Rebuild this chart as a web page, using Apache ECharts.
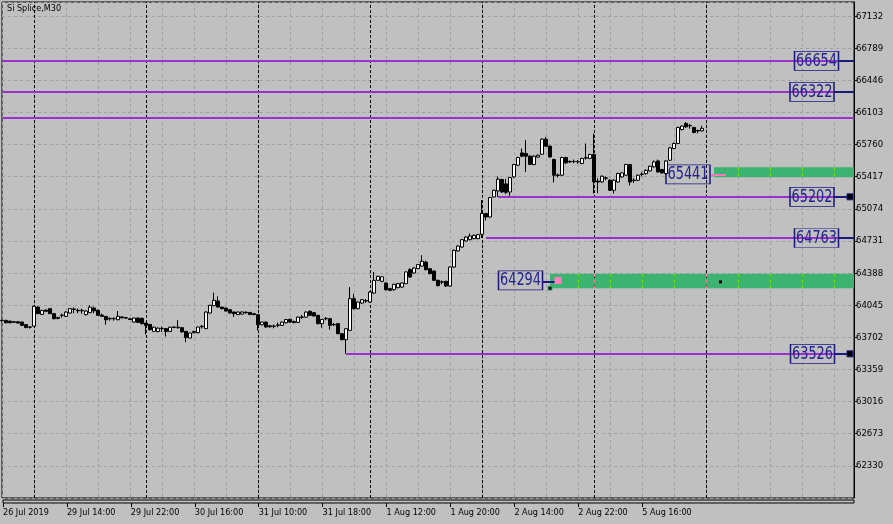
<!DOCTYPE html>
<html><head><meta charset="utf-8">
<script src="https://cdn.jsdelivr.net/npm/echarts@6/dist/echarts.min.js"></script>
<style>html,body{margin:0;padding:0;background:#c0c0c0}#c{width:893px;height:524px}</style>
</head><body><div id="c"></div><script>
// ---- data ----
const sessionDays = ['26 Jul','29 Jul','30 Jul','31 Jul','1 Aug','2 Aug','5 Aug','6 Aug','7 Aug'];
const firstBarTime = '20:00';
const firstLabel = '26 Jul 2019';
const slotCount = 214;          // 176 bars + empty space on the right
const xLabelEvery = 16;
const lastLabelBar = 160;
const separatorBars = [8, 36, 64, 92, 120, 148, 176];

// [open, close, low, high]
const candles = [
[63883,63880,63870,63890],[63883,63858,63850,63890],[63875,63858,63852,63880],[63862,63870,63855,63875],
[63868,63855,63848,63872],[63865,63830,63825,63868],[63838,63806,63800,63842],[63813,63810,63795,63820],
[63822,64033,63815,64040],[64025,63955,63950,64035],[63947,63990,63940,63995],[63993,63980,63972,64000],
[64008,63955,63950,64015],[63955,63901,63895,63960],[63915,63905,63895,63920],[63935,63940,63912,63955],
[63926,63972,63920,63980],[63962,64008,63955,64015],[64000,64005,63960,64020],[63990,63985,63960,64010],
[63985,63990,63955,64008],[63944,63983,63935,63990],[63965,64025,63960,64045],[64015,63985,63960,64030],
[63990,63937,63930,64000],[63940,63926,63920,63955],[63926,63890,63837,63930],[63905,63900,63880,63915],
[63900,63905,63880,63915],[63890,63926,63885,63983],[63920,63910,63905,63928],[63912,63908,63900,63920],
[63900,63893,63888,63905],[63865,63908,63860,63912],[63908,63862,63855,63915],[63905,63848,63840,63912],
[63854,63830,63733,63860],[63840,63784,63775,63845],[63765,63811,63760,63815],[63765,63800,63755,63808],
[63795,63798,63760,63815],[63795,63765,63712,63800],[63765,63810,63758,63815],[63808,63812,63800,63818],
[63805,63810,63795,63885],[63805,63760,63755,63810],[63766,63700,63650,63770],[63695,63748,63690,63752],
[63752,63765,63745,63772],[63752,63812,63745,63818],[63815,63820,63795,63835],[63795,63972,63790,63980],
[63962,64044,63955,64050],[64040,64097,64035,64179],[64090,64025,64020,64140],[64025,64008,64000,64030],
[64015,63983,63978,64020],[63997,63962,63955,64000],[63972,63955,63920,63978],[63945,63972,63940,63978],
[63950,63972,63945,63980],[63970,63965,63955,63980],[63968,63945,63940,63972],[63955,63945,63938,63960],
[63944,63837,63776,63950],[63837,63865,63830,63870],[63865,63812,63805,63870],[63825,63815,63805,63835],
[63820,63822,63798,63840],[63830,63835,63810,63860],[63830,63865,63825,63870],[63858,63892,63850,63898],
[63895,63865,63858,63900],[63870,63860,63852,63880],[63862,63918,63855,63925],[63915,63920,63900,63940],
[63918,63972,63910,63980],[63980,63937,63930,63990],[63965,63930,63922,63972],[63937,63848,63840,63940],
[63848,63893,63805,63900],[63900,63905,63885,63920],[63901,63830,63784,63910],[63840,63835,63825,63855],
[63848,63741,63735,63855],[63741,63677,63670,63748],[63677,63794,63526,63800],[63776,64115,63770,64239],
[64115,64008,64000,64168],[64008,64079,64000,64085],[64068,64104,64060,64110],[64090,64095,64070,64110],
[64079,64186,64070,64195],[64175,64311,64168,64400],[64311,64353,64305,64360],[64300,64348,64290,64355],
[64282,64211,64200,64290],[64222,64204,64195,64230],[64211,64268,64200,64275],[64233,64276,64225,64282],
[64239,64282,64230,64290],[64275,64400,64270,64405],[64425,64346,64340,64440],[64389,64442,64380,64450],
[64436,64479,64430,64485],[64463,64514,64458,64578],[64506,64425,64415,64520],[64435,64382,64375,64440],
[64410,64311,64305,64415],[64311,64254,64245,64318],[64290,64295,64270,64310],[64300,64250,64240,64305],
[64250,64453,64245,64460],[64453,64631,64445,64640],[64624,64677,64615,64685],[64666,64745,64660,64752],
[64731,64773,64725,64780],[64745,64784,64738,64810],[64756,64791,64750,64800],[64756,64799,64750,64805],
[64802,65024,64763,65166],[65024,64987,64950,65030],[64987,65195,64980,65200],[65201,65272,65195,65280],
[65265,65390,65202,65420],[65387,65254,65245,65395],[65340,65250,65230,65395],[65254,65408,65213,65415],
[65415,65547,65405,65555],[65540,65622,65530,65630],[65671,65636,65625,65718],[65665,65636,65468,65807],
[65636,65547,65540,65645],[65547,65636,65540,65645],[65626,65646,65620,65655],[65657,65818,65650,65825],
[65818,65743,65735,65842],[65743,65628,65620,65750],[65600,65433,65355,65610],[65430,65435,65410,65450],
[65433,65622,65425,65630],[65622,65565,65555,65630],[65580,65575,65565,65590],[65578,65580,65560,65600],
[65575,65578,65555,65595],[65558,65611,65550,65620],[65615,65620,65600,65772],[65612,65654,65605,65662],
[65654,65361,65237,65878],[65370,65360,65240,65400],[65362,65422,65355,65430],[65400,65405,65380,65420],
[65379,65272,65265,65390],[65272,65379,65237,65390],[65361,65451,65355,65460],[65415,65458,65405,65465],
[65433,65547,65425,65555],[65547,65361,65325,65555],[65375,65380,65350,65400],[65379,65433,65370,65440],
[65440,65445,65420,65465],[65450,65485,65440,65495],[65479,65529,65470,65535],[65522,65575,65515,65590],
[65585,65468,65460,65600],[65493,65457,65450,65500],[65450,65585,65441,65595],[65593,65725,65585,65735],
[65718,65772,65710,65780],[65772,65943,65765,65950],[65921,65957,65910,65965],[65985,65949,65940,66000],
[65960,65965,65930,65980],[65943,65889,65880,65950],[65910,65905,65880,65920],[65907,65933,65900,65960]
];

// price axis
const yMin = 61987, yMax = 67282, yStep = 343;

// horizontal price levels (purple)
const levelPrices   = [66654, 66322, 66045, 65202, 64763, 63526];
const levelStartBar = [0, 0, 0, 124, 121, 86];

// price tags (boxes)
const tagPrices = [66654, 66322, 65202, 64763, 63526, 65441, 64294];
const tagBars   = [204, 203, 203, 204, 203, 172, 130];
const tagShift  = [-1.5, -2, -2, -1.5, -1.5, -2, -1.5];
const tagLift   = [0, 0, 0, 0, 0, 0, -1.5];
// connector segments: [fromBar, toBar, price]
const navyLinks = [[209,213,66654],[208,213,66322],[208,212,65202],[209,213,64763],[208,212,63526],[135,139,64294]];
const pinkLinks = [[177,181,65441]];
const endSquares = [[212,65202],[212,63526]];
// green zones: [fromBar, topPrice, bottomPrice]
const zones = [[178,65518,65411],[137,64380,64225]];

// ---- categories ----
const halfHours = [];
for (let h = 10; h <= 23; h++) { halfHours.push(h + ':00'); halfHours.push(h + ':30'); }
const categories = [];
sessionDays.forEach((d, k) => {
  const start = k === 0 ? halfHours.indexOf(firstBarTime) : 0;
  for (let t = start; t < halfHours.length; t++) categories.push(d + ' ' + halfHours[t]);
});
categories.length = slotCount;

const chart = echarts.init(document.getElementById('c'), null, {renderer: 'canvas'});
const tickFn = (i) => i % xLabelEvery === 0 && i <= lastLabelBar;
const navy = '#1a1a7a';
const uiFont = "'DejaVu Sans Condensed','DejaVu Sans',sans-serif";

// grid lines seen through the green zones (xor-like colours)
const xorSegs = [];
zones.forEach(([b0, top, bot]) => {
  for (let b = b0; b <= slotCount - 1; b++) {
    const isSep = separatorBars.includes(b);
    if (b % 8 === 0 || isSep) {
      xorSegs.push([{coord:[b, top]}, {coord:[b, bot], lineStyle:{color: isSep ? '#ff80a8' : '#7ae000'}}]);
    }
  }
});

const option = {
  animation: false,
  backgroundColor: '#c0c0c0',
  title: {text: 'Si Splice,M30', left: 7, top: 4, padding: 0,
    textStyle: {fontSize: 9, fontWeight: 'normal', color: '#000', fontFamily: uiFont}},
  grid: [
    {left: 2, top: 2, width: 852, height: 496, show: true, borderColor: '#000', borderWidth: 1, backgroundColor: 'transparent'},
    {left: 2, top: 500, width: 852, height: 3, show: true, borderColor: '#000', borderWidth: 1, backgroundColor: 'transparent'}
  ],
  xAxis: [
    {type: 'category', gridIndex: 0, data: categories, boundaryGap: false,
      axisLine: {show: false}, axisTick: {show: false}, axisLabel: {show: false},
      splitLine: {show: true, interval: (i) => i % 8 === 0, lineStyle: {color: '#a0a0a0', type: [3, 3], width: 1}}},
    {type: 'category', gridIndex: 1, data: categories, boundaryGap: false,
      axisLine: {show: false},
      axisTick: {show: true, interval: tickFn, length: 4, lineStyle: {color: '#000'}},
      axisLabel: {show: true, interval: tickFn, align: 'left', margin: 5, fontSize: 9, color: '#000',
        fontFamily: uiFont, formatter: (v, i) => i === 0 ? firstLabel : v},
      splitLine: {show: false}}
  ],
  yAxis: [
    {type: 'value', gridIndex: 0, position: 'right', min: yMin, max: yMax, interval: yStep,
      axisLine: {show: true, lineStyle: {color: '#000'}},
      axisTick: {show: true, length: 3, lineStyle: {color: '#000'}},
      axisLabel: {margin: 2, fontSize: 9.5, color: '#000', fontFamily: uiFont,
        showMinLabel: false, showMaxLabel: false, formatter: (v) => String(Math.round(v))},
      splitLine: {show: true, lineStyle: {color: '#a0a0a0', type: [3, 3], width: 1}}},
    {type: 'value', gridIndex: 1, show: false, min: 0, max: 1}
  ],
  series: [
    {type: 'line', name: 'separators', data: [], z: 1, silent: true,
      markLine: {silent: true, symbol: ['none', 'none'], label: {show: false},
        lineStyle: {color: '#000', type: [3, 2], width: 1},
        data: separatorBars.map(b => ({xAxis: b}))}},
    {type: 'line', name: 'zones', data: [], z: 2, silent: true,
      markArea: {silent: true, itemStyle: {color: '#3cb371', opacity: 1}, label: {show: false},
        data: zones.map(([b0, top, bot]) => [{coord: [b0, top]}, {coord: [slotCount - 1, bot]}])}},
    {type: 'line', name: 'zonegrid', data: [], z: 3, silent: true,
      markLine: {silent: true, symbol: ['none', 'none'], label: {show: false},
        lineStyle: {type: [3, 3], width: 1}, data: xorSegs}},
    {type: 'line', name: 'levels', data: [], z: 4, silent: true,
      markLine: {silent: true, symbol: ['none', 'none'], label: {show: false},
        lineStyle: {color: '#9932cc', type: 'solid', width: 2},
        data: levelPrices.map((p, k) => [{coord: [levelStartBar[k], p]}, {coord: [slotCount - 1, p]}])}},
    {type: 'candlestick', name: 'Si Splice', data: candles, z: 5, barWidth: 3,
      itemStyle: {color: '#ffffff', color0: '#000000', borderColor: '#000000', borderColor0: '#000000', borderWidth: 1}},
    {type: 'line', name: 'tags', data: [], z: 6, silent: true,
      markLine: {silent: true, symbol: ['none', 'none'], label: {show: false},
        data: navyLinks.map(([a, b, p]) => [{coord: [a, p], lineStyle: {color: navy, width: 2, type: 'solid'}}, {coord: [b, p]}])
          .concat(pinkLinks.map(([a, b, p]) => [{coord: [a, p], lineStyle: {color: '#ff77b8', width: 2, type: 'solid'}}, {coord: [b, p]}]))},
      markPoint: {silent: true,
        data: tagPrices.map((p, k) => ({
          coord: [tagBars[k], p], symbol: 'rect', symbolSize: [44, 19], symbolOffset: [tagShift[k], tagLift[k]],
          itemStyle: {color: 'rgba(0,0,0,0)', borderColor: navy, borderWidth: 1},
          label: {show: false}
        })).concat(endSquares.map(([b, p]) => ({
          coord: [b, p], symbol: 'rect', symbolSize: 6,
          itemStyle: {color: '#000', borderColor: navy, borderWidth: 1}, label: {show: false}
        }))).concat([
          {coord: [139, 64294], symbol: 'rect', symbolSize: 7, symbolOffset: [0, -1.5], itemStyle: {color: '#ff80c0'}, label: {show: false}},
          {coord: [137, 64227], symbol: 'rect', symbolSize: 4, itemStyle: {color: '#000', borderColor: '#3cb371', borderWidth: 1}, label: {show: false}},
          {coord: [180, 64294], symbol: 'rect', symbolSize: 3, symbolOffset: [-1.5, 0], itemStyle: {color: '#000'}, label: {show: false}}
        ])}}
  ]
};
chart.setOption(option);

// tag texts (narrow digits), placed through the chart's own scales
const tagTexts = tagPrices.map((p, k) => {
  const pt = chart.convertToPixel({gridIndex: 0}, [tagBars[k], p]);
  return {
    type: 'text', x: pt[0] + tagShift[k], y: pt[1] + tagLift[k] + 0.5, scaleX: 0.76, z: 100, silent: true,
    style: {text: String(p), font: '17px "DejaVu Sans"', fill: '#22228c', align: 'center', verticalAlign: 'middle'}
  };
});
chart.setOption({graphic: tagTexts});
</script></body></html>
